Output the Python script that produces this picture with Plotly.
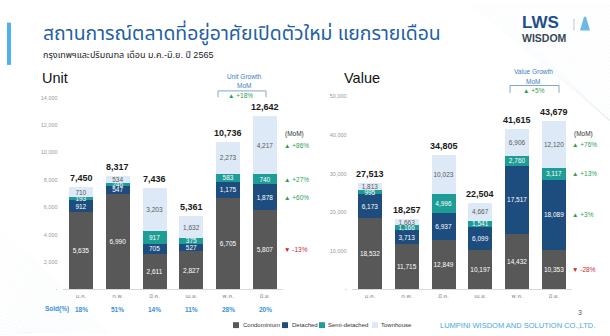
import plotly.graph_objects as go

# ---- data ----
months = ["ม.ค.", "ก.พ.", "มี.ค.", "เม.ย.", "พ.ค.", "มิ.ย."]
series_names = ["Condominium", "Detached", "Semi-detached", "Townhouse"]

unit_condo = [5635, 6990, 2611, 2827, 6705, 5807]
unit_detached = [912, 547, 705, 527, 1175, 1878]
unit_semi = [193, 246, 917, 375, 583, 740]
unit_town = [710, 534, 3203, 1632, 2273, 4217]

value_condo = [18532, 11715, 12849, 10197, 14432, 10353]
value_detached = [6173, 3713, 6937, 6099, 17517, 18089]
value_semi = [995, 1166, 4996, 1541, 2760, 3117]
value_town = [1813, 1663, 10023, 4667, 6906, 12120]

# month-on-month change (Jun vs May), per series and for the total
unit_mom = [-13, 60, 27, 86]
value_mom = [-28, 3, 13, 76]
unit_total_mom = 18
value_total_mom = 5

sold_pct = ["18%", "51%", "14%", "11%", "28%", "20%"]

unit_ticks = [0, 2000, 4000, 6000, 8000, 10000, 12000, 14000]
value_ticks = [0, 10000, 20000, 30000, 40000, 50000]

# ---- styling ----
W, H = 610, 336
colors = ["#585858", "#1d4d7e", "#1e9c96", "#dde9f6"]
text_colors = ["#ffffff", "#ffffff", "#ffffff", "#5a5a5a"]
FONT = "Liberation Sans, Arial, Noto Sans Thai, sans-serif"
UP, DOWN = "#2f9e52", "#cc2b2b"


def px(x):
    return x / W


def py(y):
    return 1 - y / H


fig = go.Figure()

unit_series = [unit_condo, unit_detached, unit_semi, unit_town]
value_series = [value_condo, value_detached, value_semi, value_town]

for xa, ya, data in (("x", "y", unit_series), ("x2", "y2", value_series)):
    for name, vals, c, tc in zip(series_names, data, colors, text_colors):
        fig.add_trace(go.Bar(
            x=months, y=vals, name=name, xaxis=xa, yaxis=ya,
            marker=dict(color=c, line=dict(width=0)),
            text=[f"{v:,}" for v in vals], textposition="inside",
            insidetextanchor="middle", textangle=0,
            textfont=dict(size=6.5, color=tc, family=FONT),
            showlegend=False, hoverinfo="skip",
        ))

annotations = []
shapes = []


def add_text(x, y, text, size, color, xanchor="center", yanchor="middle",
             xref="paper", yref="paper", family=FONT, **kw):
    annotations.append(dict(
        x=x, y=y, xref=xref, yref=yref,
        text=text, showarrow=False, xanchor=xanchor, yanchor=yanchor,
        font=dict(size=size, color=color, family=family), **kw))


def mom_text(v):
    if v >= 0:
        return f'<span style="color:{UP}">▲ +{v}%</span>'
    return f'<span style="color:{DOWN}">▼ {v}%</span>'


# totals above bars and MoM labels beside the last bar
for xr, yr, data, moms, shift in (("x", "y", unit_series, unit_mom, 17),
                                   ("x2", "y2", value_series, value_mom, 16)):
    totals = [sum(s[i] for s in data) for i in range(len(months))]
    for m, t in zip(months, totals):
        add_text(m, t, f"<b>{t:,}</b>", 9, "#1a1a1a", xref=xr, yref=yr, yshift=9)
    base = 0
    for s, mv in zip(data, moms):
        mid = base + s[-1] / 2
        base += s[-1]
        add_text(months[-1], mid, mom_text(mv), 6.5, UP, xanchor="left",
                 xref=xr, yref=yr, xshift=shift)

add_text(px(283), py(133), "(MoM)", 6.5, "#333333", xanchor="left")
add_text(px(572), py(133), "(MoM)", 6.5, "#333333", xanchor="left")

# growth call-outs
for label, cx, ty, my, ly, x0, x1, bottom, vy, v in (
        ("Unit Growth", 244, 75, 84, 89.5, 218, 266, 96, 94, unit_total_mom),
        ("Value Growth", 533, 70, 79.5, 84, 510, 559, 91.5, 89, value_total_mom)):
    add_text(px(cx), py(ty), label, 6.5, "#3a7fc1")
    add_text(px(cx), py(my), "MoM", 6.5, "#3a7fc1")
    shapes.append(dict(type="path", xref="paper", yref="paper",
                       path=f"M {px(x0)} {py(bottom)} L {px(x0)} {py(ly)} "
                            f"L {px(x1)} {py(ly)} L {px(x1)} {py(bottom)}",
                       line=dict(color="#7ea8cc", width=1)))
    add_text(px((x0 + x1) / 2 - 1), py(vy), mom_text(v), 6.5, UP)

# sold percentage row
add_text(px(56.5), py(312), "<b>Sold(%)</b>", 6.5, "#3d8fd6")
for m, s in zip(months, sold_pct):
    add_text(m, py(312), f"<b>{s}</b>", 6.5, "#3d8fd6", xref="x", yref="paper")

# titles
shapes.append(dict(type="rect", xref="paper", yref="paper",
                   x0=px(7), x1=px(11), y0=py(63), y1=py(20),
                   fillcolor="#4cb3e6", line=dict(width=0)))
add_text(px(41), py(31), "สถานการณ์ตลาดที่อยู่อาศัยเปิดตัวใหม่ แยกรายเดือน", 19.4,
         "#1f5fa6", xanchor="left")
add_text(px(41), py(53), "กรุงเทพฯและปริมณฑล เดือน ม.ค.-มิ.ย. ปี 2565", 9,
         "#1a1a1a", xanchor="left")
add_text(px(40), py(76), "Unit", 14.5, "#111111", xanchor="left")
add_text(px(342), py(76), "Value", 14.5, "#111111", xanchor="left")

# logo
add_text(px(520), py(20), "<b>LWS</b>", 17, "#1f4f8a", xanchor="left")
add_text(px(520), py(35.5), "<b>WISDOM</b>", 10.5, "#3a4757", xanchor="left")
shapes.append(dict(type="line", xref="paper", yref="paper",
                   x0=px(574), x1=px(574), y0=py(16), y1=py(28),
                   line=dict(color="#b8c4d0", width=1)))
shapes.append(dict(type="path", xref="paper", yref="paper",
                   path=f"M {px(580)} {py(28)} L {px(584)} {py(14)} "
                        f"L {px(586)} {py(14)} L {px(590)} {py(28)} Z",
                   fillcolor="#6fb8e6", line=dict(width=0)))

# legend
for name, c, sx, tx in zip(series_names, colors, [233, 282, 319, 372],
                           [241, 290, 326, 379]):
    shapes.append(dict(type="rect", xref="paper", yref="paper",
                       x0=px(sx), x1=px(sx + 6), y0=py(331), y1=py(325),
                       fillcolor=c, line=dict(width=0)))
    add_text(px(tx), py(328), name, 6, "#333333", xanchor="left")

add_text(px(438), py(328), "LUMPINI WISDOM AND SOLUTION CO.,LTD.", 7.5,
         "#4aa8dd", xanchor="left")
add_text(px(580), py(315), "3", 7, "#555555")

# faint diagonal hatching in the corners
for k in range(0, 40):
    a = 470 + k * 4
    shapes.append(dict(type="line", xref="paper", yref="paper", layer="below",
                       x0=px(a), y0=py(0), x1=px(610), y1=py(min(610 - a, 120)),
                       line=dict(color="rgba(120,170,210,0.11)", width=0.6)))
for k in range(0, 28):
    shapes.append(dict(type="line", xref="paper", yref="paper", layer="below",
                       x0=px(0), y0=py(230 + k * 4), x1=px(110 - k * 3), y1=py(336),
                       line=dict(color="rgba(120,170,210,0.11)", width=0.6)))

axis_common = dict(type="category", range=[-0.5, 5.5], showgrid=False,
                   zeroline=False, showline=True, linecolor="#d9d9d9",
                   linewidth=1, ticks="",
                   tickfont=dict(size=6, color="#8a8a8a", family=FONT))
yaxis_common = dict(showgrid=False, zeroline=False, showline=False, ticks="",
                    ticklabelstandoff=4,
                    tickfont=dict(size=5.5, color="#9a9a9a", family=FONT))

fig.update_layout(
    width=W, height=H, margin=dict(l=0, r=0, t=0, b=0),
    paper_bgcolor="white", plot_bgcolor="rgba(0,0,0,0)",
    barmode="stack", bargap=0.35,
    uniformtext=dict(minsize=6.5, mode="show"),
    font=dict(family=FONT),
    xaxis=dict(domain=[px(62.6), px(283.4)], anchor="y", **axis_common),
    yaxis=dict(domain=[py(291.7), py(96.4)], anchor="x", range=[0, 14000],
               tickvals=unit_ticks,
               ticktext=["-"] + [f"{t:,}" for t in unit_ticks[1:]],
               **yaxis_common),
    xaxis2=dict(domain=[px(351.6), px(572.4)], anchor="y2", **axis_common),
    yaxis2=dict(domain=[py(291.7), py(95.2)], anchor="x2", range=[0, 50000],
                tickvals=value_ticks,
                ticktext=["-"] + [f"{t:,}" for t in value_ticks[1:]],
                **yaxis_common),
    annotations=annotations, shapes=shapes,
)

fig.write_html("out.html")
